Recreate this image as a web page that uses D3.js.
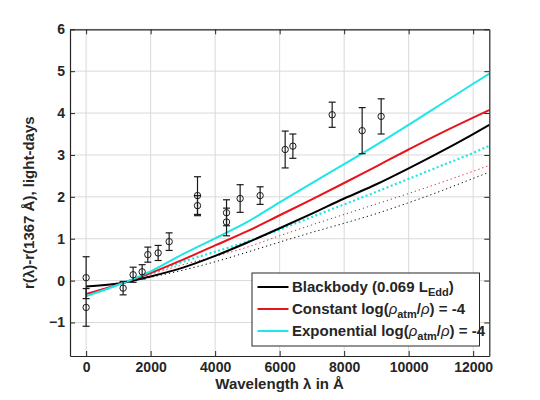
<!DOCTYPE html>
<html>
<head>
<meta charset="utf-8">
<script src="https://cdn.jsdelivr.net/npm/d3@7"></script>
<style>
  body { margin: 0; background: #fff; }
  text { font-family: "Liberation Sans", Arial, Helvetica, sans-serif; font-weight: bold; fill: #262626; }
</style>
</head>
<body>
<div id="chart-area"></div>
<script>
// observed lags (circles with error bars)
var obsLambda = [0, 0, 1147, 1457, 1737, 1913, 2233, 2574, 3453, 3453, 4353, 4353, 4775, 5395, 6171, 6410, 7628, 8558, 9147];
var obsLag    = [0.07, -0.64, -0.18, 0.14, 0.21, 0.62, 0.66, 0.93, 2.03, 1.79, 1.62, 1.40, 1.96, 2.03, 3.13, 3.21, 3.96, 3.58, 3.92];
var obsErr    = [0.50, 0.45, 0.16, 0.18, 0.17, 0.18, 0.18, 0.21, 0.45, 0.24, 0.31, 0.33, 0.33, 0.21, 0.44, 0.29, 0.30, 0.55, 0.42];

// model curves, sampled wavelengths
var modelLambda = [0, 1000, 2000, 3000, 4000, 5000, 6000, 7000, 8000, 9000, 10000, 11000, 12000, 12500];
var blackbody     = [-0.14, -0.07, 0.10, 0.31, 0.59, 0.91, 1.25, 1.60, 1.96, 2.30, 2.68, 3.08, 3.50, 3.72];
var constantAtm   = [-0.32, -0.09, 0.18, 0.50, 0.84, 1.18, 1.56, 1.94, 2.33, 2.73, 3.13, 3.52, 3.89, 4.07];
var exponentialAtm= [-0.37, -0.10, 0.22, 0.63, 1.01, 1.40, 1.87, 2.33, 2.78, 3.24, 3.72, 4.21, 4.70, 4.94];
var blackbodyDot  = [-0.14, -0.07, 0.08, 0.25, 0.45, 0.68, 0.92, 1.15, 1.37, 1.60, 1.86, 2.14, 2.44, 2.59];
var constantDot   = [-0.32, -0.09, 0.15, 0.38, 0.58, 0.80, 1.07, 1.33, 1.58, 1.83, 2.08, 2.34, 2.61, 2.75];
var exponentialDot= [-0.37, -0.10, 0.18, 0.45, 0.69, 0.93, 1.22, 1.52, 1.82, 2.12, 2.43, 2.74, 3.05, 3.22];

var xTicks = [0, 2000, 4000, 6000, 8000, 10000, 12000];
var yTicks = [-1, 0, 1, 2, 3, 4, 5, 6];

var margin = { left: 70, right: 50.7, top: 29.3, bottom: 44 };
var width = 540 - margin.left - margin.right,
    height = 400 - margin.top - margin.bottom;

var svg = d3.select("#chart-area")
    .append("svg")
        .attr("width", 540)
        .attr("height", 400);

var g = svg.append("g")
    .attr("transform", "translate(" + margin.left + "," + margin.top + ")");

var x = d3.scaleLinear().domain([-500, 12500]).range([0, width]);
var y = d3.scaleLinear().domain([-1.8, 6]).range([height, 0]);

// grid
g.append("g").selectAll("line").data(xTicks).enter().append("line")
    .attr("x1", function(d){ return x(d); }).attr("x2", function(d){ return x(d); })
    .attr("y1", 0).attr("y2", height)
    .attr("stroke", "#dadada").attr("stroke-width", 1);
g.append("g").selectAll("line").data(yTicks).enter().append("line")
    .attr("y1", function(d){ return y(d); }).attr("y2", function(d){ return y(d); })
    .attr("x1", 0).attr("x2", width)
    .attr("stroke", "#dadada").attr("stroke-width", 1);

// model curves
var line = d3.line()
    .x(function(d){ return x(d[0]); })
    .y(function(d){ return y(d[1]); })
    .curve(d3.curveMonotoneX);

var curves = [
    { v: blackbodyDot,   color: "#000000", w: 1,   dash: "1.2,3" },
    { v: constantDot,    color: "#e8141c", w: 1,   dash: "1.2,3" },
    { v: exponentialDot, color: "#1ee6e6", w: 2.2, dash: "2,2.5" },
    { v: blackbody,      color: "#000000", w: 2,   dash: null },
    { v: constantAtm,    color: "#e8141c", w: 2,   dash: null },
    { v: exponentialAtm, color: "#1ee6e6", w: 2,   dash: null }
];

curves.forEach(function(c){
    g.append("path")
        .datum(modelLambda.map(function(l, i){ return [l, c.v[i]]; }))
        .attr("d", line)
        .attr("fill", "none")
        .attr("stroke", c.color)
        .attr("stroke-width", c.w)
        .attr("stroke-dasharray", c.dash);
});

// observations
var obs = obsLambda.map(function(l, i){ return { l: l, v: obsLag[i], e: obsErr[i] }; });
var pts = g.append("g").selectAll("g").data(obs).enter().append("g");
pts.append("line")
    .attr("x1", function(d){ return x(d.l); }).attr("x2", function(d){ return x(d.l); })
    .attr("y1", function(d){ return y(d.v + d.e); }).attr("y2", function(d){ return y(d.v - d.e); })
    .attr("stroke", "#1a1a1a").attr("stroke-width", 1.2);
[1, -1].forEach(function(s){
    pts.append("line")
        .attr("x1", function(d){ return x(d.l) - 3.5; }).attr("x2", function(d){ return x(d.l) + 3.5; })
        .attr("y1", function(d){ return y(d.v + s * d.e); }).attr("y2", function(d){ return y(d.v + s * d.e); })
        .attr("stroke", "#1a1a1a").attr("stroke-width", 1.2);
});
pts.append("circle")
    .attr("cx", function(d){ return x(d.l); })
    .attr("cy", function(d){ return y(d.v); })
    .attr("r", 3.2)
    .attr("fill", "none")
    .attr("stroke", "#1a1a1a").attr("stroke-width", 1);

// axes (ticks inward, mirrored on top/right)
var xAxisGroup = g.append("g").attr("transform", "translate(0," + height + ")")
    .call(d3.axisBottom(x).tickValues(xTicks).tickFormat(d3.format("d"))
        .tickSizeInner(-5).tickSizeOuter(0).tickPadding(6));
var yAxisGroup = g.append("g")
    .call(d3.axisLeft(y).tickValues(yTicks).tickSizeInner(-5).tickSizeOuter(0).tickPadding(5));
g.append("g")
    .call(d3.axisTop(x).tickValues(xTicks).tickSizeInner(-5).tickSizeOuter(0).tickFormat(""));
g.append("g").attr("transform", "translate(" + width + ",0)")
    .call(d3.axisRight(y).tickValues(yTicks).tickSizeInner(-5).tickSizeOuter(0).tickFormat(""));

g.selectAll(".domain").attr("stroke", "#262626").attr("stroke-width", 1.2);
g.selectAll(".tick line").attr("stroke", "#262626");
g.selectAll(".tick text").attr("font-size", "14px")
    .attr("font-family", "'Liberation Sans', Arial, sans-serif")
    .attr("font-weight", "bold").attr("fill", "#262626");

// X Label
g.append("text")
    .attr("x", width / 2)
    .attr("y", height + 33)
    .attr("font-size", "15px")
    .attr("text-anchor", "middle")
    .text("Wavelength \u03bb in \u00c5");

// Y Label
g.append("text")
    .attr("x", -(height / 2) - 10)
    .attr("y", -36)
    .attr("font-size", "15px")
    .attr("text-anchor", "middle")
    .attr("transform", "rotate(-90)")
    .text("r(\u03bb)-r(1367 \u00c5), light-days");

// Legend
var lg = svg.append("g").attr("transform", "translate(252,273)");
lg.append("rect")
    .attr("width", 227.5).attr("height", 73)
    .attr("fill", "#fff").attr("stroke", "#262626").attr("stroke-width", 1);

var legendItems = [
    { color: "#000000", parts: [["Blackbody (0.069 L", 0], ["Edd", 1], [")", 0]] },
    { color: "#e8141c", parts: [["Constant log(", 0], ["\u03c1", 2], ["atm", 1], ["/", 0], ["\u03c1", 2], [") = -4", 0]] },
    { color: "#1ee6e6", parts: [["Exponential log(", 0], ["\u03c1", 2], ["atm", 1], ["/", 0], ["\u03c1", 2], [") = -4", 0]] }
];

legendItems.forEach(function(item, i){
    var cy = 14 + i * 22;
    lg.append("line")
        .attr("x1", 5.5).attr("x2", 36.5)
        .attr("y1", cy).attr("y2", cy)
        .attr("stroke", item.color).attr("stroke-width", 2);
    var t = lg.append("text")
        .attr("x", 40).attr("y", cy + 5)
        .attr("font-size", "15px");
    var shift = 0;
    item.parts.forEach(function(p){
        var ts = t.append("tspan").text(p[0]);
        if (p[1] === 1) {
            ts.attr("font-size", "11px").attr("dy", 4);
            shift = 4;
        } else {
            if (shift) { ts.attr("dy", -shift); shift = 0; }
            if (p[1] === 2) ts.attr("font-style", "italic").attr("font-weight", "normal");
        }
    });
});
</script>
</body>
</html>
